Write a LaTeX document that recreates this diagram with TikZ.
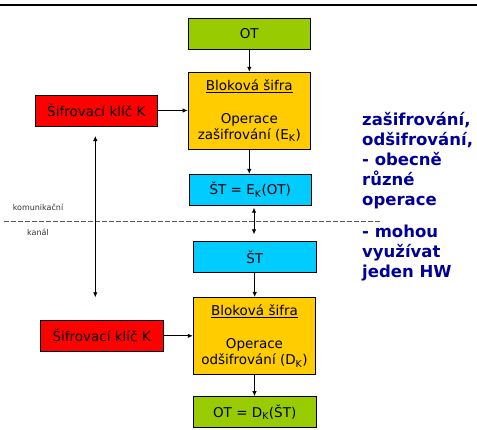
\documentclass[tikz,border=0pt]{standalone}
\usepackage{fontspec}
\setmainfont{DejaVu Sans}
\usetikzlibrary{arrows.meta}
\definecolor{otgreen}{HTML}{99CC00}
\definecolor{blockyellow}{HTML}{FFCC00}
\definecolor{ctcyan}{HTML}{00CCFF}
\definecolor{keyred}{HTML}{FF0000}
\definecolor{noteblue}{HTML}{000099}
\begin{document}
\begin{tikzpicture}[x=1pt,y=-1pt,
  box/.style={draw=black, line width=0.8pt, align=center, inner sep=0pt,
    minimum width=122.7pt, font=\fontsize{13.5}{16.5}\selectfont},
  smallbox/.style={box, minimum height=31pt},
  bigbox/.style={box, fill=blockyellow, minimum height=77pt},
  conn/.style={line width=0.8pt, -{Latex[length=5pt,width=4.5pt]}},
  dconn/.style={line width=0.8pt, {Latex[length=5pt,width=4.5pt]}-{Latex[length=5pt,width=4.5pt]}},
  chanlabel/.style={font=\fontsize{8}{9}\selectfont, text=black!80, inner sep=0pt},
  note/.style={font=\fontsize{16.5}{20}\selectfont\bfseries, text=noteblue, align=left, inner sep=0pt}
]
\useasboundingbox (0,0) rectangle (477,429);

% header rule
\draw[line width=2.6pt] (0,4.8) -- (477,4.8);

% encryption side
\node[smallbox, fill=otgreen] (ot1) at (249.3,34) {OT};
\node[bigbox] (enc) at (249.3,110.7)
  {\underline{Bloková šifra}\\[16.5pt]Operace\\zašifrování (E\textsubscript{K})};
\node[smallbox, fill=ctcyan] (stE) at (250.3,189.8) {ŠT = E\textsubscript{K}(OT)};
\node[smallbox, fill=keyred] (key1) at (96.3,110.5) {Šifrovací klíč K};

% decryption side
\node[smallbox, fill=ctcyan] (stD) at (254.7,257) {ŠT};
\node[bigbox] (dec) at (254.5,335.8)
  {\underline{Bloková šifra}\\[16.5pt]Operace\\odšifrování (D\textsubscript{K})};
\node[smallbox, fill=otgreen] (ot2) at (254.7,412) {OT = D\textsubscript{K}(ŠT)};
\node[smallbox, fill=keyred] (key2) at (101.7,335.8) {Šifrovací klíč K};

% flow arrows
\draw[conn] (ot1) -- (enc);
\draw[conn] (enc.south) -- (enc.south |- stE.north);
\draw[conn] (stD.south) -- (stD.south |- dec.north);
\draw[conn] (dec.south) -- (dec.south |- ot2.north);
\draw[conn] (key1.east) -- (key1.east -| enc.west);
\draw[conn] (key2.east) -- (key2.east -| dec.west);

% communication channel
\coordinate (chanL) at (4,221);
\coordinate (chanR) at (382,221);
\draw[black!65, line width=0.8pt, dash pattern=on 5pt off 2pt] (chanL) -- (chanR);
\node[chanlabel] (chan1) at (38,207) {komunikační};
\node[chanlabel] (chan2) at (38,232) {kanál};

\coordinate (chTop) at (254,207.7);
\coordinate (chBot) at (254,234.3);
\draw[dconn] (chTop) -- (chBot);

% shared key
\coordinate (kTop) at (95.3,136);
\coordinate (kBot) at (95.3,297.3);
\draw[dconn] (kTop) -- (kBot);

% side note (anchored at the baseline of its last line)
\node[note, anchor=base west] (note) at (362,277.5)
  {zašifrování,\\odšifrování,\\- obecně\\různé\\operace\\[12pt]- mohou\\využívat\\jeden HW};
\end{tikzpicture}
\end{document}
